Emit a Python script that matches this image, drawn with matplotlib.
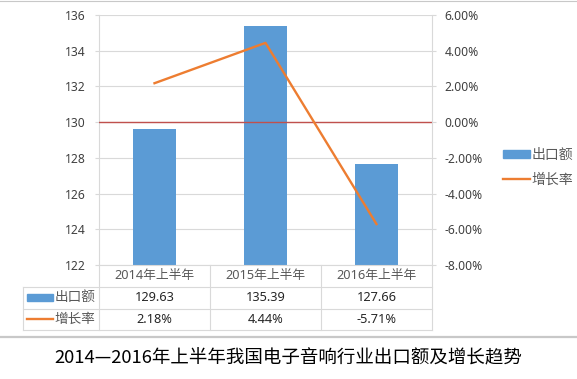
import numpy as np
import matplotlib
matplotlib.use('Agg')
import matplotlib.pyplot as plt
from matplotlib.transforms import blended_transform_factory
from matplotlib.patches import Rectangle
from matplotlib.lines import Line2D

plt.rcParams['font.family'] = ['Noto Sans', 'Noto Sans CJK SC', 'DejaVu Sans']

categories = ['2014年上半年', '2015年上半年', '2016年上半年']
export_values = [129.63, 135.39, 127.66]
growth_rates = [2.18, 4.44, -5.71]
bar_name = '出口额'
line_name = '增长率'
title = '2014—2016年上半年我国电子音响行业出口额及增长趋势'

blue = '#5b9bd5'
orange = '#ed7d31'
grid_c = '#d9d9d9'
text_c = '#404040'

W, H = 577, 379
fig = plt.figure(figsize=(W / 100, H / 100), dpi=100)
ax = fig.add_axes([99 / W, (H - 265) / H, 333 / W, 250 / H])
ax2 = ax.twinx()

x = np.arange(len(categories))
ax.bar(x, export_values, width=0.39, color=blue, zorder=2)
ax.set_xlim(-0.5, len(categories) - 0.5)
ax.set_ylim(122, 136)
ax.set_yticks(np.arange(122, 137, 2))
ax.yaxis.grid(True, color=grid_c, lw=0.8, zorder=0)
ax.set_axisbelow(True)
ax.set_xticks([])
ax.tick_params(axis='y', length=3, width=0.8, color=grid_c, pad=6.5,
               labelsize=8.7, labelcolor=text_c)
for s in ['top', 'right']:
    ax.spines[s].set_visible(False)
for s in ['left', 'bottom']:
    ax.spines[s].set_color(grid_c)
    ax.spines[s].set_linewidth(0.8)

ax2.plot(x, growth_rates, color=orange, lw=1.7, zorder=3)
ax2.axhline(0, color='#c0504d', lw=1, zorder=2)
ax2.set_ylim(-8, 6)
ax2.set_yticks(np.arange(-8, 7, 2))
ax2.set_yticklabels(['%.2f%%' % v for v in np.arange(-8, 7, 2)])
ax2.tick_params(axis='y', length=3, width=0.8, color=grid_c, pad=6,
                labelsize=8.7, labelcolor=text_c)
for s in ['top', 'left', 'bottom']:
    ax2.spines[s].set_visible(False)
ax2.spines['right'].set_color(grid_c)
ax2.spines['right'].set_linewidth(0.8)

# legend on the right
handles = [Rectangle((0, 0), 1, 1, color=blue),
           Line2D([0], [0], color=orange, lw=1.7)]
leg = fig.legend(handles, [bar_name, line_name], loc='center left',
                 bbox_to_anchor=(490 / W, 1 - 168 / H), frameon=False,
                 fontsize=10, handlelength=2.0, handleheight=0.55,
                 handletextpad=0.1, labelspacing=0.7)
for t in leg.get_texts():
    t.set_color('#595959')

# data table under the plot
tr = blended_transform_factory(ax.transData, ax.transAxes)
row_h = 0.087
left_edge = -1.185
right_edge = len(categories) - 0.5
line_kw = dict(color=grid_c, lw=0.8, transform=tr, clip_on=False)
for i in range(1, 4):
    y = -row_h * i
    ax.add_line(Line2D([left_edge, right_edge], [y, y], **line_kw))
for xb in np.arange(-0.5, len(categories), 1.0):
    ax.add_line(Line2D([xb, xb], [0, -3 * row_h], **line_kw))
ax.add_line(Line2D([left_edge, left_edge], [-row_h, -3 * row_h], **line_kw))

for i, cat in enumerate(categories):
    ax.text(i, -0.5 * row_h, cat, transform=tr, ha='center', va='center',
            fontsize=9.2, color='#595959', clip_on=False)
    ax.text(i, -1.5 * row_h, '%.2f' % export_values[i], transform=tr,
            ha='center', va='center', fontsize=9.2, color='#262626', clip_on=False)
    ax.text(i, -2.5 * row_h, '%.2f%%' % growth_rates[i], transform=tr,
            ha='center', va='center', fontsize=9.2, color='#262626', clip_on=False)

key_x0, key_x1 = -1.145, -0.91
ax.add_patch(Rectangle((key_x0, -1.5 * row_h - 0.014), key_x1 - key_x0, 0.028,
                       color=blue, transform=tr, clip_on=False))
ax.add_line(Line2D([key_x0, key_x1], [-2.5 * row_h, -2.5 * row_h], color=orange,
                   lw=1.7, transform=tr, clip_on=False))
ax.text(key_x1 + 0.01, -1.5 * row_h, bar_name, transform=tr, ha='left',
        va='center', fontsize=9.8, color='#595959', clip_on=False)
ax.text(key_x1 + 0.01, -2.5 * row_h, line_name, transform=tr, ha='left',
        va='center', fontsize=9.8, color='#595959', clip_on=False)

# frame lines of the picture and the caption
fig.add_artist(Line2D([0, 1], [1 - 0.5 / H, 1 - 0.5 / H], color='#c8c8c8', lw=0.8))
fig.add_artist(Line2D([0, 1], [1 - 337 / H, 1 - 337 / H], color='#c8c8c8', lw=1.6))
fig.text(0.5, 1 - 358 / H, title, ha='center', va='center', fontsize=13.3,
         color='black', family=['Noto Sans CJK SC', 'DejaVu Sans'])

fig.savefig('out.png', dpi=100)
